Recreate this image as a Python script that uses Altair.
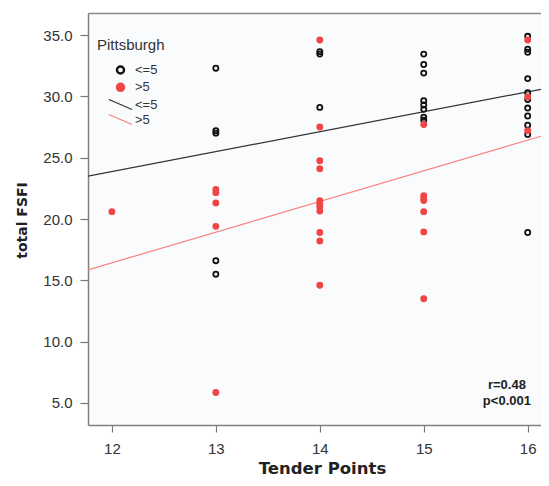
import altair as alt
import pandas as pd

# Pittsburgh group "<=5" (open black circles)
tp_low = [13, 13, 13, 13, 13,
          14, 14, 14,
          15, 15, 15, 15, 15, 15, 15, 15,
          16, 16, 16, 16, 16, 16, 16, 16, 16, 16, 16]
fsfi_low = [32.3, 27.2, 27.0, 16.6, 15.5,
            33.65, 33.45, 29.1,
            33.45, 32.6, 31.9, 29.65, 29.3, 28.95, 28.3, 28.05,
            34.9, 33.85, 33.6, 31.45, 30.3, 29.75, 29.05, 28.4, 27.65, 26.9, 18.9]

# Pittsburgh group ">5" (filled red dots)
tp_high = [12,
           13, 13, 13, 13, 13,
           14, 14, 14, 14, 14, 14, 14, 14, 14, 14, 14,
           15, 15, 15, 15, 15, 15, 15,
           16, 16, 16]
fsfi_high = [20.6,
             22.4, 22.15, 21.3, 19.4, 5.85,
             34.6, 27.5, 24.75, 24.1, 21.5, 21.25, 21.0, 20.65, 18.9, 18.2, 14.6,
             27.7, 21.9, 21.7, 21.5, 20.6, 18.95, 13.5,
             34.6, 29.95, 27.2]

# fit lines (read at the plot edges)
fit_x = [11.77, 16.128]
fit_low = [23.5, 30.58]
fit_high = [15.85, 26.75]

groups = ["<=5", ">5"]
ann_x = [15.8, 15.8]
ann_y = [6.15, 4.85]
ann_txt = ["r=0.48", "p<0.001"]

RED = "#ef4646"

pts = pd.DataFrame({
    "tp": tp_low + tp_high,
    "fsfi": fsfi_low + fsfi_high,
    "group": [groups[0]] * len(tp_low) + [groups[1]] * len(tp_high),
})
fits = pd.DataFrame({
    "tp": fit_x + fit_x,
    "fsfi": fit_low + fit_high,
    "line": [groups[0]] * 2 + [groups[1]] * 2,
})
ann = pd.DataFrame({"tp": ann_x, "fsfi": ann_y, "txt": ann_txt})

xs = alt.Scale(domain=[11.77, 16.128], nice=False, zero=False)
ys = alt.Scale(domain=[3.2, 36.8], nice=False, zero=False)

xaxis = alt.Axis(values=[12, 13, 14, 15, 16], format="d", title="Tender Points",
                 grid=False, tickSize=7, labelPadding=9,
                 titleFont="DejaVu Sans", titleFontWeight="bold", titleFontSize=16.5,
                 titleColor="#222", titleX=234, titleY=48, titleBaseline="alphabetic",
                 titleAnchor="middle")
yaxis = alt.Axis(values=[5, 10, 15, 20, 25, 30, 35], format=".1f", title="total FSFI",
                 grid=False, tickSize=8, labelPadding=8,
                 titleFont="DejaVu Sans", titleFontWeight="bold", titleFontSize=14,
                 titleColor="#222", titleX=-66, titleY=207, titleBaseline="middle",
                 titleAnchor="middle")
topaxis = alt.Axis(orient="top", labels=False, ticks=False, title=None, grid=False,
                   domain=True, domainColor="#8a8a8a", domainWidth=1.5)

pt_legend = alt.Legend(title="Pittsburgh", orient="none", legendX=9, legendY=25,
                       padding=0, symbolOffset=17, labelOffset=8,
                       titleFont="Liberation Sans", titleFontSize=15,
                       titleFontWeight="normal", titleColor="#333", titlePadding=10.5,
                       labelFont="Liberation Sans", labelFontSize=13, labelColor="#333",
                       rowPadding=0.3, symbolSize=50, symbolStrokeWidth=2.4,
                       symbolType="circle", symbolOpacity=1,
                       symbolFillColor={"expr": "datum.value === '>5' ? '" + RED + "' : 'transparent'"})
ln_legend = alt.Legend(title=None, orient="none", legendX=9, legendY=85,
                       padding=0, symbolOffset=17, labelOffset=8,
                       labelFont="Liberation Sans", labelFontSize=13, labelColor="#333",
                       rowPadding=-2.3, symbolSize=64, symbolStrokeWidth=1.3,
                       symbolType="M-2.9,-1.25L2.9,1.25")

lines = alt.Chart(fits).mark_line(strokeWidth=1.2, clip=True).encode(
    x=alt.X("tp:Q", scale=xs, axis=xaxis),
    y=alt.Y("fsfi:Q", scale=ys, axis=yaxis),
    stroke=alt.Stroke("line:N", scale=alt.Scale(domain=groups, range=["#333333", "#f98080"]),
                      legend=ln_legend),
    detail="line:N",
)

points = alt.Chart(pts).mark_point(size=26, strokeWidth=1.8, opacity=1, filled=False).encode(
    x=alt.X("tp:Q", scale=xs, axis=None),
    y=alt.Y("fsfi:Q", scale=ys),
    stroke=alt.Stroke("group:N", scale=alt.Scale(domain=groups, range=["#111111", RED]),
                      legend=pt_legend),
    fill=alt.Fill("group:N", scale=alt.Scale(domain=groups, range=["transparent", RED]),
                  legend=None),
    order=alt.Order("group:N"),
)

text = alt.Chart(ann).mark_text(font="Liberation Sans", fontSize=13, fontWeight="bold",
                                color="#222", align="center", baseline="alphabetic").encode(
    x=alt.X("tp:Q", scale=xs, axis=topaxis),
    y=alt.Y("fsfi:Q", scale=ys),
    text="txt:N",
)

chart = alt.layer(lines, points, text).resolve_scale(
    stroke="independent"
).resolve_axis(
    x="independent"
).properties(
    width=453, height=412,
    autosize=alt.AutoSizeParams(type="none"),
    padding={"left": 80, "top": 5, "right": 0, "bottom": 53},
    background="white",
).configure_view(
    fill="#fafbfd", stroke="transparent"
).configure_axis(
    domainColor="#808080", domainWidth=1.5, tickColor="#777777", tickWidth=1.2,
    labelColor="#333333", labelFont="Liberation Sans", labelFontSize=15
)

chart.save("out.html", embed_options={"renderer": "svg", "actions": False})
